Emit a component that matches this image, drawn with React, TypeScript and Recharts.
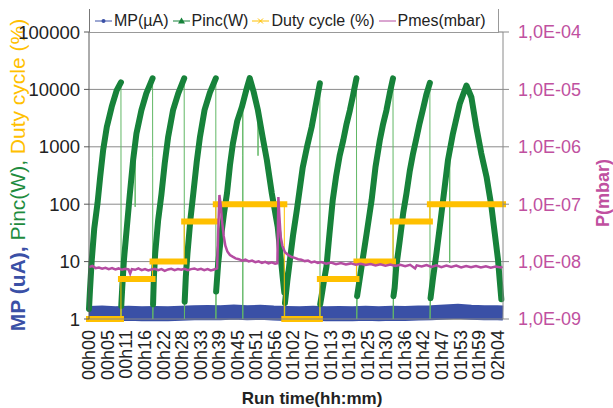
import React from 'react';
import {
  ComposedChart,
  Line,
  XAxis,
  YAxis,
  CartesianGrid,
  Legend
} from 'recharts';

// x axis: run time in minutes, labels every 124/22 min
const timeLabels = [
  '00h00', '00h05', '00h11', '00h16', '00h22', '00h28', '00h33', '00h39',
  '00h45', '00h51', '00h56', '01h02', '01h07', '01h13', '01h19', '01h25',
  '01h30', '01h36', '01h42', '01h47', '01h53', '01h59', '02h04'
];
const lastLabelMinutes = 124;
const runEnd = 125.7;

const leftTicks = [1, 10, 100, 1000, 10000, 100000];
const rightTicks = [1e-9, 1e-8, 1e-7, 1e-6, 1e-5, 1e-4];

// MP(µA): noisy trace around 1.2-1.4, drawn as a wide band
const mpTimes = [0, 4, 8, 12, 16, 20, 24, 28, 32, 36, 40, 44, 48, 52, 56, 60, 64, 68, 72, 76, 80, 84, 88, 92, 96, 100, 104, 108, 112, 116, 120, 124, 125.7];
const mpValues = [1.25, 1.27, 1.24, 1.26, 1.23, 1.25, 1.23, 1.26, 1.28, 1.3, 1.28, 1.32, 1.29, 1.31, 1.27, 1.25, 1.23, 1.26, 1.23, 1.25, 1.24, 1.26, 1.24, 1.26, 1.25, 1.27, 1.29, 1.33, 1.36, 1.31, 1.29, 1.28, 1.27];

// Pinc(W): one list per power ramp, [minutes, W]
const pincRamps = [
  [[0.0, 1.5], [0.3, 3.2], [0.8, 10], [1.6, 38], [2.6, 105], [3.4, 300], [4.3, 880], [5.4, 2200], [6.9, 5000], [8.4, 9600], [9.7, 13300]],
  [[9.8, 1.7], [10.1, 3.6], [10.6, 10.6], [11.5, 40], [12.4, 150], [13.4, 590], [14.4, 1700], [15.9, 4300], [17.4, 8500], [19.3, 15600]],
  [[19.45, 1.8], [19.7, 5.4], [20.1, 14], [21.0, 53], [22.0, 150], [23.0, 520], [24.0, 1450], [25.5, 4300], [27.1, 8500], [28.9, 15600]],
  [[29.05, 2.0], [29.4, 5.5], [29.9, 14], [30.8, 55], [31.7, 160], [32.7, 540], [33.7, 1500], [35.1, 4400], [36.7, 8800], [38.5, 15600]],
  [[38.6, 3], [39.2, 9], [40.0, 25], [41.0, 70], [41.9, 155], [42.8, 480], [43.7, 1150], [45.0, 2800], [46.4, 4900], [47.7, 9500], [48.8, 15700],
    [50.0, 9000], [51.3, 4300], [52.7, 1500], [54.0, 590], [55.5, 155], [57.3, 40], [58.3, 10.6], [58.8, 5.4], [59.3, 2.9]],
  [[59.5, 1.9], [60.2, 4.5], [61.0, 10.6], [62.0, 30], [63.1, 79], [64.9, 440], [66.2, 1000], [67.6, 2200], [68.9, 5500], [70.1, 12800]],
  [[70.2, 1.8], [70.6, 2.5], [71.3, 4.5], [72.1, 8.2], [73.0, 30], [74.0, 117], [75.0, 300], [76.1, 700], [77.2, 1300], [78.2, 2500], [79.2, 4300], [80.2, 8000], [81.2, 15600]],
  [[81.4, 2.5], [82.2, 5], [83.2, 12], [84.3, 31], [85.8, 117], [87.0, 450], [88.3, 1300], [89.3, 2500], [90.3, 4300], [91.3, 8500], [92.3, 15600]],
  [[92.45, 2.5], [92.8, 3.5], [93.3, 8.2], [94.3, 22], [95.4, 70], [96.4, 155], [97.4, 380], [98.4, 770], [99.4, 1400], [100.4, 2600], [101.4, 4500], [102.4, 8000], [103.5, 13000]],
  [[103.7, 2.3], [104.5, 5.4], [105.5, 14], [106.5, 40], [107.5, 117], [109.0, 590], [110.5, 1700], [112.6, 5700], [114.6, 11700],
    [116.1, 7300], [117.6, 2200], [119.1, 770], [120.7, 300], [122.2, 90], [123.2, 31], [124.2, 10.6], [124.7, 4.8], [125.2, 2.2]]
];
// drop-outs between ramps and short glitches (thin line only)
const pincDrops = [
  [9.75, 1], [14.0, 1150], [14.01, 90], [14.02, 1150], [19.33, 660], [19.38, 1],
  [28.93, 80], [28.98, 1], [38.53, 1], [46.65, 5600], [46.68, 700], [46.7, 1], [46.72, 5600],
  [51.32, 700], [51.34, 4250], [59.4, 1], [70.15, 1], [81.3, 1], [92.33, 85], [92.38, 1],
  [103.55, 1], [109.5, 830], [109.52, 9.5], [109.54, 840]
];

// Duty cycle (%): step levels and the minute each one starts
const dutyStarts = [0, 9.7, 19.3, 28.9, 38.5, 59.3, 70.1, 81.2, 92.3, 103.5];
const dutyLevels = [1, 5, 10, 50, 100, 1, 5, 10, 50, 100];

// Pmes, in units of 1E-09 mbar
const pmesTimes = [
  0, 1, 2, 3, 4, 5, 6, 7, 8, 9, 10, 11, 12, 12.5, 13, 14, 15, 16, 17, 18, 19, 20, 21, 22, 23, 24, 25, 26, 27, 28, 29,
  30, 31, 32, 33, 34, 35, 36, 37, 38, 38.9, 39.3, 39.6, 40.0, 40.4, 40.9, 41.4, 42.0, 42.8, 43.6, 44.5, 45.5, 46.5,
  47.5, 48.5, 49.5, 50.5, 51.5, 52.5, 53.5, 54.5, 55.5, 56.5, 57.2, 57.5, 57.8, 58.2, 58.7, 59.5, 60.5, 61.5, 62.5,
  63.5, 64.5, 65.5, 66.5, 67.5, 68.5, 69.5, 70.5, 72, 73.5, 75, 76.5, 78, 79.5, 81, 82.5, 84, 85.5, 87, 88.5, 90,
  91.5, 93, 94.5, 96, 97.5, 99, 99.5, 101, 102.5, 104, 105.5, 107, 108.5, 110, 111.5, 113, 114.5, 116, 117.5, 119,
  120.5, 122, 123.5, 125, 125.6
];
const pmesNano = [
  8.0, 8.4, 7.7, 7.9, 7.5, 7.8, 7.4, 7.7, 7.3, 7.6, 7.2, 7.5, 7.3, 6.2, 7.4, 7.2, 7.6, 7.1, 7.4, 7.0, 7.3, 7.5, 7.1, 7.4, 6.9, 7.3, 7.5, 7.1, 7.4, 7.2, 7.5,
  7.1, 7.4, 7.6, 7.2, 7.5, 7.1, 7.4, 7.0, 7.3, 7.6, 45, 145, 95, 50, 28, 19, 15, 13, 12.2, 11.4, 11.0, 10.4,
  10.8, 10.1, 10.4, 9.8, 10.1, 9.5, 9.9, 9.3, 9.7, 9.2, 9.4, 133, 62, 27, 19, 14.6, 13.0, 12.0, 11.6,
  11.0, 10.8, 10.2, 10.4, 9.7, 10.0, 9.5, 9.8, 9.2, 9.6, 9.0, 9.4, 8.9, 9.3, 8.8, 9.2, 8.7, 9.1, 8.6, 9.0, 8.5,
  8.9, 8.4, 8.8, 8.3, 8.8, 7.6, 8.6, 8.2, 8.7, 8.1, 8.6, 8.0, 8.5, 8.1, 8.5, 7.9, 8.4, 8.0, 8.4, 7.9,
  8.3, 7.8, 8.2, 7.9, 8.1
];

const BLUE = '#3a50a6';
const GREEN = '#17823a';
const GREEN_THIN = '#62b866';
const ORANGE = '#ffc000';
const PURPLE = '#b54ca2';
const PURPLE_TEXT = '#c050a0';
const FONT = '"Liberation Sans", Arial, sans-serif';

const labelStep = lastLabelMinutes / (timeLabels.length - 1);
const timeTicks = timeLabels.map((_, i) => i * labelStep);
const minorTicks = leftTicks.slice(0, -1).flatMap((d) => [2, 3, 4, 5, 6, 7, 8, 9].map((m) => m * d));

const mpData = mpTimes.map((t, i) => ({ t, mp: mpValues[i] }));
const pincThin = [...pincRamps.flat(), ...pincDrops]
  .map(([t, w]) => ({ t, w }))
  .sort((a, b) => a.t - b.t);
const pincThick = pincRamps.flatMap((r) => [
  ...r.map(([t, w]) => ({ t, w })),
  { t: r[r.length - 1][0], w: null }
]);
const dutySegments = dutyStarts.map((s, i) => {
  const e = i + 1 < dutyStarts.length ? dutyStarts[i + 1] : runEnd;
  return [{ t: s, d: dutyLevels[i] }, { t: e, d: dutyLevels[i] }];
});
const dutyThin = dutySegments.flat();
const dutyThick = dutySegments.flatMap((seg) => [...seg, { t: seg[1].t, d: null }]);
const pmesData = pmesTimes.map((t, i) => ({ t, p: pmesNano[i] * 1e-9 }));

const formatSci = (v: number) => {
  const e = Math.round(Math.log10(v));
  return `1,0E-${String(-e).padStart(2, '0')}`;
};

const TimeTick = (props: any) => {
  const { x, y, payload } = props;
  const label = timeLabels[Math.round(payload.value / labelStep)];
  return (
    <text
      x={x}
      y={y}
      transform={`rotate(-90 ${x} ${y})`}
      textAnchor="end"
      dy="0.35em"
      fontSize={18}
      fill="#222"
      fontFamily={FONT}
    >
      {label}
    </text>
  );
};

const LeftTitle = () => (
  <text
    x={17}
    y={175}
    transform="rotate(-90 17 175)"
    textAnchor="middle"
    dominantBaseline="central"
    fontSize={21}
    fontFamily={FONT}
  >
    <tspan fill={BLUE} fontWeight="bold">MP (uA), </tspan>
    <tspan fill="#1e8c3e">Pinc(W), </tspan>
    <tspan fill={ORANGE}>Duty cycle (%)</tspan>
  </text>
);

const RightTitle = () => (
  <text
    x={603}
    y={193}
    transform="rotate(-90 603 193)"
    textAnchor="middle"
    dominantBaseline="central"
    fontSize={18}
    fontWeight="bold"
    fill={PURPLE_TEXT}
    fontFamily={FONT}
  >
    P(mbar)
  </text>
);

const XTitle = () => (
  <text x={312} y={404} textAnchor="middle" fontSize={17} fontWeight="bold" fill="#222" fontFamily={FONT}>
    Run time(hh:mm)
  </text>
);

const Swatch = ({ color, marker }: { color: string; marker: string }) => (
  <svg width={17} height={10} style={{ display: 'block' }}>
    <line x1={0} y1={5} x2={17} y2={5} stroke={color} strokeWidth={1} />
    {marker === 'dot' && <circle cx={8.5} cy={5} r={2} fill={color} />}
    {marker === 'tri' && <polygon points="8.5,1.5 12,7.5 5,7.5" fill={color} />}
    {marker === 'x' && (
      <g stroke={color} strokeWidth={1}>
        <line x1={6} y1={2.5} x2={11} y2={7.5} />
        <line x1={6} y1={7.5} x2={11} y2={2.5} />
      </g>
    )}
  </svg>
);

const legendItems = [
  { name: 'MP(µA)', color: BLUE, marker: 'dot' },
  { name: 'Pinc(W)', color: GREEN, marker: 'tri' },
  { name: 'Duty cycle (%)', color: ORANGE, marker: 'x' },
  { name: 'Pmes(mbar)', color: PURPLE, marker: 'none' }
];

const LegendBox = () => (
  <div
    style={{
      display: 'flex',
      alignItems: 'center',
      height: 24,
      boxSizing: 'border-box',
      paddingLeft: 5,
      background: '#fff',
      borderLeft: '1px solid #777',
      borderRight: '1px solid #999',
      borderBottom: '1px solid #999',
      fontFamily: FONT,
      fontSize: 16,
      color: '#222',
      whiteSpace: 'nowrap'
    }}
  >
    {legendItems.map((it) => (
      <div key={it.name} style={{ display: 'flex', alignItems: 'center', marginRight: 4 }}>
        <Swatch color={it.color} marker={it.marker} />
        <span style={{ marginLeft: 2 }}>{it.name}</span>
      </div>
    ))}
  </div>
);

export default function App() {
  return (
    <div style={{ position: 'absolute', left: 0, top: 0, width: 613, height: 408, background: '#fff' }}>
      <ComposedChart width={613} height={408} margin={{ top: 32, right: 10, bottom: 29, left: 9 }}>
        <CartesianGrid yAxisId="minor" horizontal vertical={false} stroke="#dcdcdc" />
        <CartesianGrid yAxisId="left" horizontal vertical={false} stroke="#8a8a8a" />
        <XAxis
          type="number"
          dataKey="t"
          domain={[0, runEnd]}
          ticks={timeTicks}
          interval={0}
          tick={<TimeTick />}
          tickLine={false}
          tickSize={6}
          tickMargin={5}
          height={60}
          axisLine={{ stroke: '#888' }}
          label={<XTitle />}
        />
        <YAxis
          yAxisId="left"
          scale="log"
          domain={[1, 100000]}
          ticks={leftTicks}
          interval={0}
          width={80}
          tickSize={5}
          tickMargin={4}
          tick={{ fontSize: 18.5, fill: '#222', fontFamily: FONT }}
          axisLine={{ stroke: '#595959' }}
          tickLine={{ stroke: '#595959' }}
          label={<LeftTitle />}
        />
        <YAxis yAxisId="minor" scale="log" domain={[1, 100000]} ticks={minorTicks} interval={0} hide />
        <YAxis
          yAxisId="right"
          orientation="right"
          scale="log"
          domain={[1e-9, 1e-4]}
          ticks={rightTicks}
          interval={0}
          width={100}
          tickSize={6}
          tickMargin={9}
          tickFormatter={formatSci}
          tick={{ fontSize: 18, fill: PURPLE_TEXT, fontFamily: FONT, textAnchor: 'start' }}
          axisLine={{ stroke: '#8a8a8a' }}
          tickLine={{ stroke: '#8a8a8a' }}
          label={<RightTitle />}
        />
        <Legend
          layout="horizontal"
          verticalAlign="middle"
          align="center"
          wrapperStyle={{ left: 89, top: 9, width: 410 }}
          content={() => <LegendBox />}
        />
        <Line
          yAxisId="left"
          data={mpData}
          dataKey="mp"
          type="linear"
          stroke={BLUE}
          strokeWidth={15}
          strokeLinecap="butt"
          dot={false}
          activeDot={false}
          isAnimationActive={false}
        />
        <Line
          yAxisId="left"
          data={pincThin}
          dataKey="w"
          type="linear"
          stroke={GREEN_THIN}
          strokeWidth={1}
          dot={false}
          activeDot={false}
          isAnimationActive={false}
        />
        <Line
          yAxisId="left"
          data={pincThick}
          dataKey="w"
          type="linear"
          stroke={GREEN}
          strokeWidth={6}
          strokeLinejoin="round"
          strokeLinecap="round"
          dot={false}
          activeDot={false}
          isAnimationActive={false}
        />
        <Line
          yAxisId="left"
          data={dutyThin}
          dataKey="d"
          type="linear"
          stroke={ORANGE}
          strokeWidth={1}
          dot={false}
          activeDot={false}
          isAnimationActive={false}
        />
        <Line
          yAxisId="left"
          data={dutyThick}
          dataKey="d"
          type="linear"
          stroke={ORANGE}
          strokeWidth={6}
          strokeLinecap="square"
          dot={false}
          activeDot={false}
          isAnimationActive={false}
        />
        <Line
          yAxisId="right"
          data={pmesData}
          dataKey="p"
          type="linear"
          stroke={PURPLE}
          strokeWidth={2.5}
          dot={false}
          activeDot={false}
          isAnimationActive={false}
        />
      </ComposedChart>
    </div>
  );
}
